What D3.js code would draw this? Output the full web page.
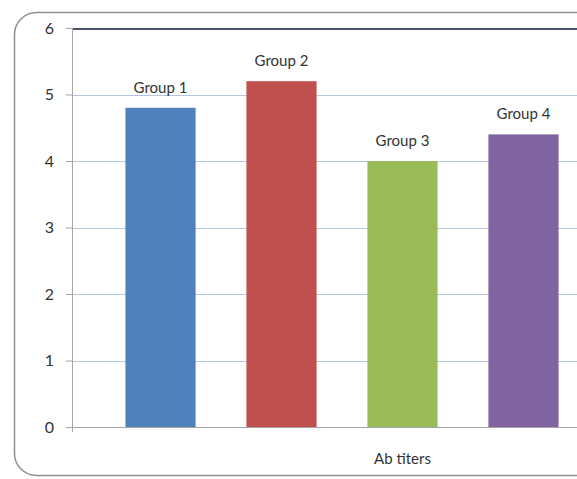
<!DOCTYPE html>
<html>
<head>
<meta charset="utf-8">
<script src="https://cdn.jsdelivr.net/npm/d3@7"></script>
<style>
  html, body { margin: 0; padding: 0; background: #fff; overflow: hidden; }
  svg { display: block; }
  text { font-family: Lato, "Open Sans", sans-serif; fill: #333; }
</style>
</head>
<body>
<svg id="chart" width="577" height="479"></svg>
<script>
// Antibody titers per group
const categories = ["Ab titers"];
const groups = ["Group 1", "Group 2", "Group 3", "Group 4"];
const values = [4.8, 5.2, 4.0, 4.4];
const colors = ["#4f81bd", "#c0504d", "#9bbb59", "#8064a2"];
const yTicks = [0, 1, 2, 3, 4, 5, 6];

const svg = d3.select("#chart");
const font = "Lato, 'Open Sans', sans-serif";

// chart frame (rounded, continues past the right edge)
svg.append("rect")
  .attr("x", 14.5).attr("y", 12.5)
  .attr("width", 760).attr("height", 463)
  .attr("rx", 22).attr("ry", 22)
  .attr("fill", "#fff")
  .attr("stroke", "#8f8f8f")
  .attr("stroke-width", 1.5);

const plotLeft = 72, plotRight = 733, plotTop = 28, plotBottom = 427;

const y = d3.scaleLinear().domain([0, 6]).range([plotBottom, plotTop]);
const xCat = d3.scaleBand().domain(categories).range([plotLeft, plotRight]);
const x = d3.scaleBand().domain(groups).range([100, 584])
  .paddingInner(0.42).paddingOuter(0.21);

// horizontal gridlines
svg.append("g").selectAll("line")
  .data(yTicks.filter(d => d > 0 && d < 6))
  .join("line")
  .attr("x1", plotLeft).attr("x2", plotRight)
  .attr("y1", d => Math.round(y(d)) + 0.5).attr("y2", d => Math.round(y(d)) + 0.5)
  .attr("stroke", "#b3c7e5").attr("stroke-width", 1.2);

// top border of the plot area
svg.append("line")
  .attr("x1", plotLeft).attr("x2", plotRight)
  .attr("y1", y(6) + 1).attr("y2", y(6) + 1)
  .attr("stroke", "#4a5468").attr("stroke-width", 2);

// bars
svg.append("g").selectAll("rect")
  .data(groups)
  .join("rect")
  .attr("x", d => x(d))
  .attr("y", (d, i) => y(values[i]))
  .attr("width", x.bandwidth())
  .attr("height", (d, i) => y(0) - y(values[i]))
  .attr("fill", (d, i) => colors[i]);

// group labels above the bars
svg.append("g").selectAll("text")
  .data(groups)
  .join("text")
  .attr("x", d => x(d) + x.bandwidth() / 2)
  .attr("y", (d, i) => y(values[i]) - 15)
  .attr("text-anchor", "middle")
  .attr("font-size", 15)
  .attr("fill", "#3a3a3a")
  .text(d => d);

// y axis
const yAxis = svg.append("g")
  .attr("transform", `translate(${plotLeft},0)`)
  .call(d3.axisLeft(y).tickValues(yTicks).tickSize(6).tickPadding(12).tickFormat(d3.format("d")));
yAxis.select(".domain").attr("stroke", "#a6a6a6").attr("d", `M0.5,${plotTop}V${plotBottom + 5}`);
yAxis.selectAll(".tick line").attr("stroke", "#a6a6a6");
yAxis.selectAll(".tick text").attr("font-size", 16).attr("fill", "#3a3a3a")
  .style("font-family", font);

// x axis
const xAxis = svg.append("g")
  .attr("transform", `translate(0,${plotBottom})`)
  .call(d3.axisBottom(xCat).tickSize(0).tickPadding(26));
xAxis.select(".domain").attr("stroke", "#a6a6a6").attr("d", `M${plotLeft - 6},0.5H${plotRight}`);
xAxis.selectAll(".tick text").attr("font-size", 15).attr("fill", "#3a3a3a")
  .style("font-family", font);
</script>
</body>
</html>
